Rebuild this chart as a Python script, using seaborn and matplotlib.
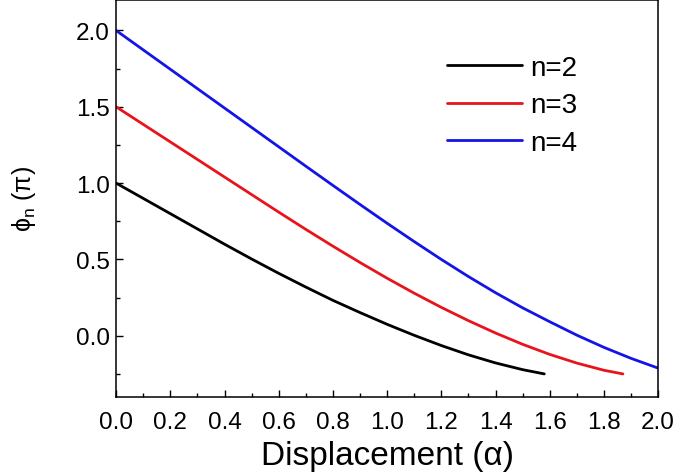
import pandas as pd
import matplotlib
matplotlib.use("Agg")
import matplotlib.pyplot as plt
import seaborn as sns
from matplotlib.ticker import MultipleLocator, FormatStrFormatter

# ==== data ====
x_n2 = [0.0, 0.1, 0.2, 0.3, 0.4, 0.5, 0.6, 0.7, 0.8, 0.9, 1.0, 1.1, 1.2, 1.3, 1.4, 1.5, 1.58]
y_n2 = [1.00, 0.90, 0.80, 0.70, 0.60, 0.503, 0.409, 0.319, 0.232, 0.152, 0.075, 0.003,
        -0.064, -0.125, -0.178, -0.222, -0.25]

x_n3 = [0.0, 0.1, 0.2, 0.3, 0.4, 0.5, 0.6, 0.7, 0.8, 0.9, 1.0, 1.1, 1.2, 1.3, 1.4,
        1.5, 1.6, 1.7, 1.8, 1.87]
y_n3 = [1.50, 1.385, 1.27, 1.155, 1.04, 0.925, 0.81, 0.697, 0.587, 0.48, 0.377, 0.279,
        0.186, 0.099, 0.018, -0.056, -0.122, -0.179, -0.226, -0.25]

x_n4 = [0.0, 0.1, 0.2, 0.3, 0.4, 0.5, 0.6, 0.7, 0.8, 0.9, 1.0, 1.1, 1.2, 1.3, 1.4,
        1.5, 1.6, 1.7, 1.8, 1.9, 2.0]
y_n4 = [2.00, 1.873, 1.746, 1.619, 1.492, 1.365, 1.238, 1.111, 0.985, 0.86, 0.737, 0.617,
        0.50, 0.388, 0.282, 0.183, 0.092, 0.004, -0.076, -0.148, -0.212]

labels = ["n=2", "n=3", "n=4"]
colors = ["#000000", "#e8141c", "#1414e6"]

frames = []
for lab, xs, ys in zip(labels, [x_n2, x_n3, x_n4], [y_n2, y_n3, y_n4]):
    frames.append(pd.DataFrame({"alpha": xs, "phi": ys, "n": lab}))
df = pd.concat(frames, ignore_index=True)

sns.set_style("ticks")
plt.rcParams["font.family"] = ["Liberation Sans", "DejaVu Sans"]
plt.rcParams["mathtext.fontset"] = "custom"
plt.rcParams["mathtext.rm"] = "Liberation Sans"
plt.rcParams["mathtext.it"] = "Liberation Sans:italic"
# pure black text and ticks, like the original
for key in ["text.color", "axes.labelcolor", "xtick.color", "ytick.color",
            "xtick.labelcolor", "ytick.labelcolor"]:
    plt.rcParams[key] = "black"

fig = plt.figure(figsize=(6.75, 4.77), dpi=100)
ax = fig.add_axes([0.172, 0.166, 0.803, 0.832])

sns.lineplot(data=df, x="alpha", y="phi", hue="n", palette=colors, linewidth=2.0,
             sort=False, estimator=None, ax=ax)

ax.set_xlim(0, 2.0)
ax.set_ylim(-0.4, 2.2)
ax.xaxis.set_major_locator(MultipleLocator(0.2))
ax.xaxis.set_minor_locator(MultipleLocator(0.1))
ax.yaxis.set_major_locator(MultipleLocator(0.5))
ax.yaxis.set_minor_locator(MultipleLocator(0.25))
ax.xaxis.set_major_formatter(FormatStrFormatter("%.1f"))
ax.yaxis.set_major_formatter(FormatStrFormatter("%.1f"))
ax.set_yticks([0.0, 0.5, 1.0, 1.5, 2.0])

ax.tick_params(which="both", direction="in", top=False, right=False, labelsize=17.5,
               width=1.0, color="black", labelcolor="black")
ax.tick_params(which="major", length=5)
ax.tick_params(which="minor", length=3)
ax.tick_params(axis="x", which="major", pad=10)
ax.tick_params(axis="y", which="major", pad=4.5)
for sp in ax.spines.values():
    sp.set_linewidth(1.1)
    sp.set_color("black")

ax.set_xlabel("Displacement (α)", fontsize=24, color="black")
ax.xaxis.set_label_coords(0.5, -0.11)
ax.set_ylabel(r"$\mathregular{\phi_n}$ (π)", fontsize=18, color="black")
ax.yaxis.label.set_va("center")
ax.yaxis.set_label_coords(-0.17, 0.5)

handles, labs = ax.get_legend_handles_labels()
leg = ax.legend(handles, labs, loc="upper left", bbox_to_anchor=(0.59, 0.89), frameon=False,
                fontsize=20, handlelength=2.7, handletextpad=0.3, labelspacing=0.42,
                borderaxespad=0.0)
for t in leg.get_texts():
    t.set_color("black")

fig.savefig("out.png", dpi=100)
